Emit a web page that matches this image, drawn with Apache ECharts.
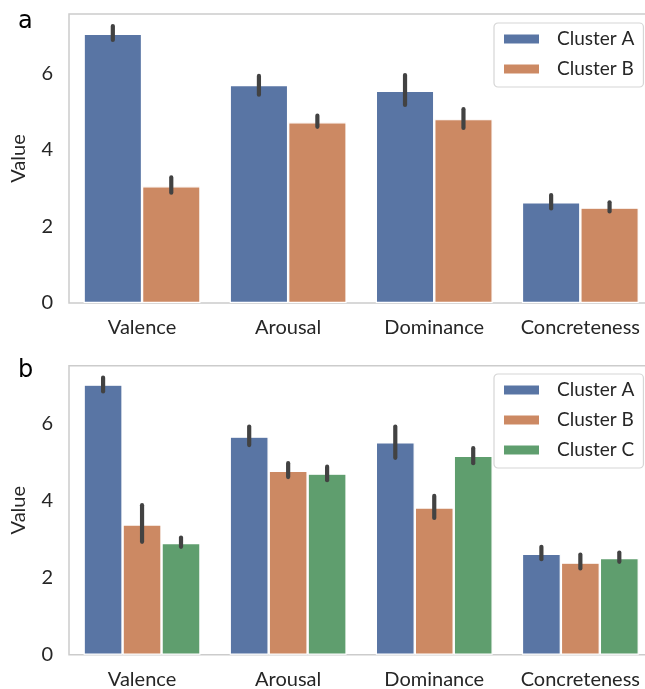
<!DOCTYPE html>
<html><head><meta charset="utf-8">
<script src="https://cdn.jsdelivr.net/npm/echarts@6/dist/echarts.min.js"></script>
<style>html,body{margin:0;padding:0;background:#fff}#c{width:645px;height:689px}</style>
</head><body><div id="c"></div>
<script>
const categories = ['Valence', 'Arousal', 'Dominance', 'Concreteness'];
const yTickValues = [0, 2, 4, 6];
const namesA = ['Cluster A', 'Cluster B'];
const namesB = ['Cluster A', 'Cluster B', 'Cluster C'];
// panel a
const aMeanA = [7.03, 5.69, 5.54, 2.63];
const aMeanB = [3.05, 4.72, 4.80, 2.49];
const aLowA  = [6.87, 5.44, 5.17, 2.47];
const aHighA = [7.23, 5.93, 5.95, 2.82];
const aLowB  = [2.88, 4.60, 4.57, 2.39];
const aHighB = [3.28, 4.89, 5.06, 2.63];
// panel b
const bMeanA = [7.01, 5.66, 5.51, 2.62];
const bMeanB = [3.38, 4.77, 3.82, 2.39];
const bMeanC = [2.90, 4.70, 5.16, 2.51];
const bLowA  = [6.83, 5.44, 5.11, 2.48];
const bHighA = [7.19, 5.92, 5.92, 2.80];
const bLowB  = [2.93, 4.61, 3.55, 2.24];
const bHighB = [3.88, 4.97, 4.12, 2.60];
const bLowC  = [2.80, 4.53, 4.97, 2.41];
const bHighC = [3.04, 4.88, 5.36, 2.65];

const colors = ['#5975A4', '#CC8963', '#5F9E6E'];
const FONT = 'Lato';
const TXT = '#262626';

function barSeries(name, data, ci, axis) {
  return {
    type: 'bar', name: name, data: data, xAxisIndex: axis, yAxisIndex: axis,
    barGap: '0%', barCategoryGap: '20%',
    itemStyle: { color: colors[ci], borderColor: '#ffffff', borderWidth: 1.2 },
    silent: true
  };
}
function errSeries(lows, highs, idx, n, axis) {
  return {
    type: 'custom', xAxisIndex: axis, yAxisIndex: axis, z: 10, silent: true,
    data: lows.map((l, i) => [i, l, highs[i]]),
    encode: { x: 0, y: [1, 2] },
    renderItem: function (params, api) {
      const c = api.value(0);
      const lo = api.coord([c, api.value(1)]);
      const hi = api.coord([c, api.value(2)]);
      const band = api.size([1, 0])[0];
      const w = band * 0.8 / n;
      const off = (idx - (n - 1) / 2) * w;
      return {
        type: 'line',
        shape: { x1: lo[0] + off, y1: lo[1], x2: hi[0] + off, y2: hi[1] },
        style: { stroke: '#424242', lineWidth: 4.2, lineCap: 'round' }
      };
    }
  };
}
function xAxis(gi) {
  return {
    type: 'category', data: categories, gridIndex: gi,
    axisLine: { show: false }, axisTick: { show: false },
    axisLabel: { fontFamily: FONT, fontSize: 20, color: TXT, margin: 15, interval: 0 }
  };
}
function yAxis(gi, max) {
  return {
    type: 'value', gridIndex: gi, min: 0, max: max, interval: 2,
    name: 'Value', nameLocation: 'middle', nameGap: 40, nameRotate: 90,
    nameTextStyle: { fontFamily: FONT, fontSize: 20, color: TXT },
    axisLine: { show: false }, axisTick: { show: false },
    splitLine: { show: false },
    axisLabel: {
      fontFamily: FONT, fontSize: 20, color: TXT, margin: 16,
      formatter: v => (yTickValues.indexOf(v) >= 0 ? String(v) : '')
    }
  };
}
function legend(names, top) {
  return {
    data: names, orient: 'vertical', left: 494, top: top,
    icon: 'rect', itemWidth: 37, itemHeight: 11, itemGap: 10,
    padding: [6, 9, 8, 8],
    borderColor: '#d6d6d6', borderWidth: 1.2, borderRadius: 4,
    backgroundColor: 'rgba(255,255,255,0.85)',
    textStyle: { fontFamily: FONT, fontSize: 19, color: TXT, lineHeight: 20, padding: [0, 0, 0, 12] },
    selectedMode: false
  };
}
function grid(top) {
  return {
    left: 69, top: top, right: -8.4, height: 289,
    outerBoundsMode: 'none', containLabel: false,
    show: true, borderColor: '#cccccc', borderWidth: 1.5, backgroundColor: 'transparent'
  };
}

const chart = echarts.init(document.getElementById('c'), null, { renderer: 'canvas' });
chart.setOption({
  animation: false,
  backgroundColor: '#ffffff',
  title: [
    { text: 'a', left: 13, top: 5, textStyle: { fontFamily: 'DejaVu Sans', fontSize: 24, fontWeight: 'normal', color: '#000' } },
    { text: 'b', left: 13, top: 354, textStyle: { fontFamily: 'DejaVu Sans', fontSize: 24, fontWeight: 'normal', color: '#000' } }
  ],
  grid: [grid(14), grid(365.7)],
  xAxis: [xAxis(0), xAxis(1)],
  yAxis: [yAxis(0, 7.546), yAxis(1, 7.50)],
  legend: [legend(namesA, 23), legend(namesB, 374)],
  series: [
    barSeries(namesA[0], aMeanA, 0, 0),
    barSeries(namesA[1], aMeanB, 1, 0),
    errSeries(aLowA, aHighA, 0, 2, 0),
    errSeries(aLowB, aHighB, 1, 2, 0),
    barSeries(namesB[0], bMeanA, 0, 1),
    barSeries(namesB[1], bMeanB, 1, 1),
    barSeries(namesB[2], bMeanC, 2, 1),
    errSeries(bLowA, bHighA, 0, 3, 1),
    errSeries(bLowB, bHighB, 1, 3, 1),
    errSeries(bLowC, bHighC, 2, 3, 1)
  ]
});
</script></body></html>
